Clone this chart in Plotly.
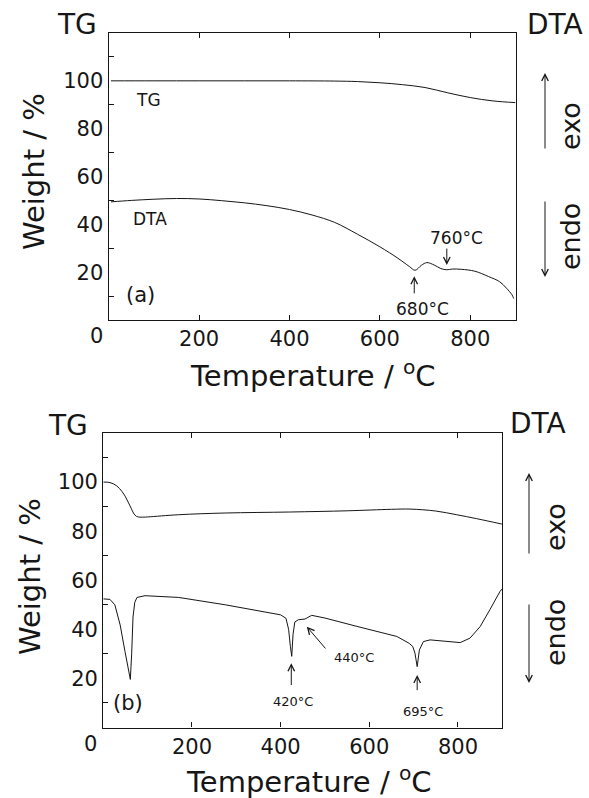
import plotly.graph_objects as go

W, H = 589, 798

# ---------------- data ----------------
# panel (a)
t_tg_a = [5, 100, 200, 300, 400, 500, 550, 600, 650, 700, 750, 800, 850, 900]
tg_a = [100.0, 100.0, 100.0, 100.0, 100.0, 99.9, 99.7, 99.2, 98.4, 97.2, 95.0, 93.0, 91.6, 90.9]

t_dta_a = [5, 50, 100, 150, 200, 250, 300, 350, 400, 450, 500, 550, 600, 640, 665, 678,
           692, 704, 720, 735, 748, 760, 780, 810, 840, 865, 880, 892, 896]
dta_a = [49.4, 50.0, 50.5, 50.8, 50.6, 49.9, 49.0, 47.8, 46.2, 43.9, 40.8, 35.9, 30.6, 25.8,
         22.4, 20.8, 22.9, 24.0, 23.0, 21.5, 21.0, 21.3, 21.2, 20.4, 18.2, 16.0, 13.3, 10.6, 9.0]

# panel (b)
t_tg_b = [0, 15, 30, 42, 50, 57, 63, 68, 75, 85, 100, 170, 275, 420, 550, 650, 692, 750, 797, 842, 899]
tg_b = [100.0, 99.8, 98.5, 96.2, 94.0, 91.5, 89.3, 87.4, 86.0, 85.7, 85.8, 86.7, 87.4, 87.8,
        88.3, 88.9, 89.0, 88.2, 86.7, 85.1, 82.9]

t_dta_b = [0, 15, 26, 38, 49, 56, 61, 64, 67, 71, 76, 94, 170, 275, 350, 400, 412, 418, 422,
           425, 428, 432, 440, 455, 470, 500, 572, 624, 662, 690, 698, 703, 708, 713, 722, 737,
           775, 805, 827, 850, 872, 895, 900]
dta_b = [52.4, 52.2, 50.0, 41.8, 30.9, 24.0, 19.6, 30.0, 45.0, 51.0, 53.0, 53.7, 53.0, 50.0,
         47.5, 45.9, 44.5, 40.0, 33.0, 29.0, 38.0, 43.0, 43.9, 44.2, 45.7, 44.6, 41.2, 38.9,
         37.1, 34.3, 33.0, 30.3, 24.8, 31.6, 35.0, 35.7, 35.0, 34.6, 36.4, 41.1, 48.0, 55.5, 56.5]

x_ticks = [200, 400, 600, 800]
y_ticks = [20, 40, 60, 80, 100]
y_minor = [10, 30, 50, 70, 90, 110]

# ---------------- styling ----------------
INK = "#161616"
FONT = "DejaVu Sans"


def px_x(X):
    return X / W


def px_y(Y):
    return 1 - Y / H


fig = go.Figure()
line = dict(color=INK, width=1.0)
fig.add_trace(go.Scatter(x=t_tg_a, y=tg_a, mode="lines", line=line, xaxis="x", yaxis="y", line_shape="spline"))
fig.add_trace(go.Scatter(x=t_dta_a, y=dta_a, mode="lines", line=line, xaxis="x", yaxis="y", line_shape="spline"))
fig.add_trace(go.Scatter(x=t_tg_b, y=tg_b, mode="lines", line=line, xaxis="x2", yaxis="y2", line_shape="spline"))
fig.add_trace(go.Scatter(x=t_dta_b, y=dta_b, mode="lines", line=line, xaxis="x2", yaxis="y2"))


def xax(domain, anchor):
    return dict(domain=domain, anchor=anchor, range=[0, 900], tickvals=x_ticks,
                ticks="inside", ticklen=5, tickcolor=INK, tickwidth=1,
                showline=True, linecolor=INK, linewidth=1.3, mirror="allticks",
                showgrid=False, zeroline=False,
                tickfont=dict(family=FONT, size=21, color=INK))


def yax(domain, anchor):
    return dict(domain=domain, anchor=anchor, range=[0, 120], tickvals=y_ticks,
                ticks="", showline=True, linecolor=INK, linewidth=1.3, mirror=True,
                showgrid=False, zeroline=False,
                minor=dict(tickvals=y_minor, ticks="inside", ticklen=5, tickcolor=INK, tickwidth=1),
                tickfont=dict(family=FONT, size=21, color=INK))


fig.update_layout(
    width=W, height=H,
    margin=dict(l=0, r=0, t=0, b=0),
    paper_bgcolor="white", plot_bgcolor="white",
    showlegend=False,
    xaxis=xax([px_x(108.7), px_x(515.5)], "y"),
    yaxis=yax([px_y(320), px_y(33)], "x"),
    xaxis2=xax([px_x(103.3), px_x(502.3)], "y2"),
    yaxis2=yax([px_y(727.5), px_y(433)], "x2"),
)

ann = []


def ptext(text, X, Y, size, angle=0):
    ann.append(dict(text=text, x=px_x(X), y=px_y(Y), xref="paper", yref="paper",
                    showarrow=False, textangle=angle, xanchor="center", yanchor="middle",
                    font=dict(family=FONT, size=size, color=INK)))


def dtext(text, x, y, size, xr="x", yr="y"):
    ann.append(dict(text=text, x=x, y=y, xref=xr, yref=yr, showarrow=False,
                    xanchor="center", yanchor="middle",
                    font=dict(family=FONT, size=size, color=INK)))


def darrow(x, y, ax, ay, xr="x", yr="y"):
    ann.append(dict(text="", x=x, y=y, ax=ax, ay=ay, xref=xr, yref=yr, axref=xr, ayref=yr,
                    showarrow=True, arrowhead=5, arrowsize=1.3, arrowwidth=1, arrowcolor=INK))


def parrow(X, Y, dy):
    ann.append(dict(text="", x=px_x(X), y=px_y(Y), xref="paper", yref="paper",
                    ax=0, ay=dy, showarrow=True, arrowhead=5, arrowsize=1.3,
                    arrowwidth=1, arrowcolor=INK))


# ---- panel (a) text ----
ptext("TG", 77, 25, 28)
ptext("DTA", 555, 24, 28)
ptext("Weight / %", 34, 172, 29, -90)
ptext("Temperature / <sup>o</sup>C", 313, 374, 29)
ptext("0", 96, 336, 21)
ptext("exo", 570, 126, 27, -90)
ptext("endo", 570, 237, 27, -90)
parrow(545, 73, 77)
parrow(545, 277, -77)
dtext("TG", 88, 92, 17)
dtext("DTA", 92, 42.1, 17)
dtext("(a)", 71, 10.5, 21)
dtext("760°C", 770, 34.1, 17)
darrow(748, 23.0, 748, 30.5)
dtext("680°C", 694, 4.6, 17)
darrow(676, 18.3, 676, 10.5)

# ---- panel (b) text ----
ptext("TG", 68, 425, 28)
ptext("DTA", 538, 423, 28)
ptext("Weight / %", 30, 577, 29, -90)
ptext("Temperature / <sup>o</sup>C", 309, 780, 29)
ptext("0", 90, 744, 21)
ptext("exo", 555, 527, 27, -90)
ptext("endo", 555, 633, 27, -90)
parrow(529, 473, 82)
parrow(529, 683, -80)
dtext("(b)", 56, 9.9, 21, "x2", "y2")
dtext("420°C", 428, 10.5, 13, "x2", "y2")
darrow(424, 26.2, 424, 16.7, "x2", "y2")
dtext("440°C", 566, 28.6, 13, "x2", "y2")
darrow(459, 41.1, 504, 31.6, "x2", "y2")
dtext("695°C", 720, 6.4, 13, "x2", "y2")
darrow(708, 21.4, 708, 14.6, "x2", "y2")

fig.update_layout(annotations=ann)
fig.write_html("out.html")
